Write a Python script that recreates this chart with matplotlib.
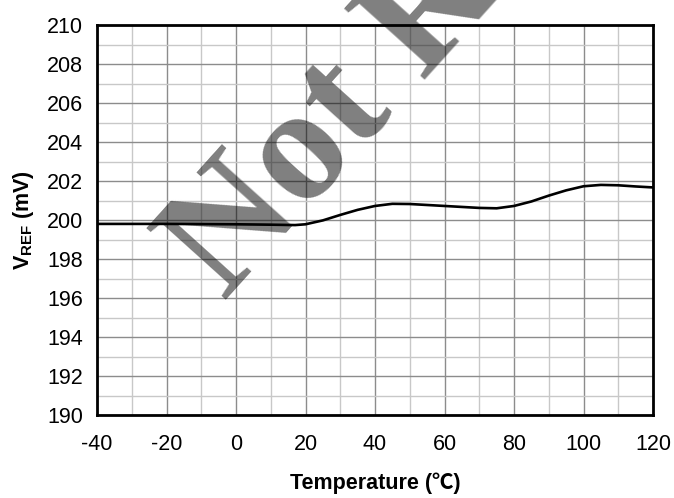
import matplotlib
matplotlib.use("Agg")
import matplotlib.pyplot as plt
from matplotlib.ticker import MultipleLocator

# temperature (C) and reference voltage (mV)
temp = [-40, -20, 0, 10, 17, 20, 25, 30, 35, 40, 45, 50, 55, 60, 65, 70,
        75, 80, 85, 90, 95, 100, 105, 110, 115, 120]
vref = [199.80, 199.80, 199.78, 199.76, 199.74, 199.78, 199.98, 200.26, 200.52,
        200.72, 200.83, 200.82, 200.77, 200.72, 200.67, 200.62, 200.60, 200.72,
        200.95, 201.25, 201.52, 201.73, 201.80, 201.78, 201.72, 201.67]

xticks = [-40, -20, 0, 20, 40, 60, 80, 100, 120]
yticks = [190, 192, 194, 196, 198, 200, 202, 204, 206, 208, 210]

plt.rcParams['font.family'] = ['Liberation Sans', 'Noto Sans CJK SC', 'DejaVu Sans']
plt.rcParams['mathtext.fontset'] = 'custom'
plt.rcParams['mathtext.bf'] = 'Liberation Sans:bold'
plt.rcParams['mathtext.rm'] = 'Liberation Sans'
plt.rcParams['axes.unicode_minus'] = False

fig = plt.figure(figsize=(6.74, 4.98), dpi=100)
ax = fig.add_axes([97/674, 1 - 415/498, 556/674, 390/498])

ax.plot(temp, vref, color='black', lw=1.9, zorder=5)

ax.set_xlim(-40, 120)
ax.set_ylim(190, 210)
ax.set_xticks(xticks)
ax.set_yticks(yticks)
ax.xaxis.set_minor_locator(MultipleLocator(10))
ax.yaxis.set_minor_locator(MultipleLocator(1))
ax.grid(True, which='major', color='#8c8c8c', lw=1.0, zorder=1)
ax.grid(True, which='minor', color='#c8c8c8', lw=1.0, zorder=1)
ax.set_axisbelow(True)
ax.tick_params(which='both', length=0, labelsize=15.5)
ax.tick_params(axis='x', pad=14)
ax.tick_params(axis='y', pad=10)

for s in ax.spines.values():
    s.set_linewidth(2)
    s.set_color('black')

ax.set_xlabel('Temperature (℃)', fontsize=15.5, fontweight='bold', labelpad=12)
ax.set_ylabel(r'$\mathbf{V_{REF}}$ (mV)', fontsize=15.5, fontweight='bold', labelpad=8)

# watermark
fig.text(225/674, 1 - 302/498, 'Not Recommended', family='Liberation Serif',
         fontweight='bold', fontsize=118, color='black', alpha=0.5,
         rotation=48, rotation_mode='anchor', ha='left', va='baseline', zorder=3)

fig.savefig('out.png', dpi=100)
